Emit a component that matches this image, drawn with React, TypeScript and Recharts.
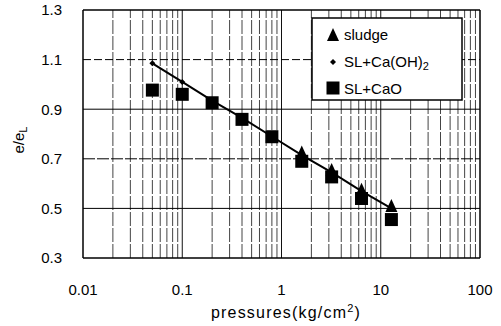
import React from "react";
import { ScatterChart, Scatter, XAxis, YAxis, ReferenceLine } from "recharts";

// pressures (kg/cm2) of the loading steps
const pressures = [0.05, 0.1, 0.2, 0.4, 0.8, 1.6, 3.2, 6.4, 12.8];
const sludgePressures = [1.6, 3.2, 6.4, 12.8];

// e/eL
const sludge = [0.725, 0.655, 0.575, 0.51];
const slCaOH2 = [1.085, 1.01, 0.935, 0.865, 0.79, 0.715, 0.645, 0.57, 0.5];
const slCaO = [0.977, 0.96, 0.926, 0.859, 0.789, 0.69, 0.627, 0.54, 0.455];

const xTicks = [0.01, 0.1, 1, 10, 100];
const yTicks = [0.3, 0.5, 0.7, 0.9, 1.1, 1.3];
const yMinorTicks = [
  0.3, 0.35, 0.4, 0.45, 0.5, 0.55, 0.6, 0.65, 0.7, 0.75, 0.8, 0.85, 0.9, 0.95,
  1.0, 1.05, 1.1, 1.15, 1.2, 1.25, 1.3,
];
const xGrid = [
  0.02, 0.03, 0.04, 0.05, 0.06, 0.07, 0.08, 0.09, 0.1,
  0.2, 0.3, 0.4, 0.5, 0.6, 0.7, 0.8, 0.9, 1,
  2, 3, 4, 5, 6, 7, 8, 9, 10,
  20, 30, 40, 50, 60, 70, 80, 90,
];
const xMajorGrid = [0.1, 1, 10];

const sludgeData = sludgePressures.map((x, i) => ({ x, y: sludge[i] }));
const caOH2Data = pressures.map((x, i) => ({ x, y: slCaOH2[i] }));
const caOData = pressures.map((x, i) => ({ x, y: slCaO[i] }));

const FONT = "'Liberation Sans', Arial, sans-serif";

const Triangle = (p: any) => (
  <polygon
    points={`${p.cx},${p.cy - 7} ${p.cx - 6},${p.cy + 6} ${p.cx + 6},${p.cy + 6}`}
    fill="#000"
  />
);
const Square = (p: any) => <rect x={p.cx - 6.5} y={p.cy - 6.5} width={13} height={13} fill="#000" />;
const Diamond = (p: any) => (
  <polygon
    points={`${p.cx},${p.cy - 3} ${p.cx + 3},${p.cy} ${p.cx},${p.cy + 3} ${p.cx - 3},${p.cy}`}
    fill="#000"
  />
);

export default function App() {
  return (
    <div style={{ position: "absolute", left: 0, top: 0, width: 501, height: 326, background: "#fff" }}>
      <ScatterChart width={501} height={326} margin={{ top: 10, right: 21, left: 0, bottom: 0 }}>
        <XAxis
          dataKey="x"
          type="number"
          scale="log"
          domain={[0.01, 100]}
          allowDataOverflow
          ticks={xTicks}
          tickFormatter={(v: number) => String(v)}
          height={68}
          tickLine={false}
          tickSize={24}
          tickMargin={2}
          axisLine={{ stroke: "#000", strokeWidth: 1.5 }}
          tick={{ fill: "#000", fontSize: 15, fontFamily: FONT }}
        />
        <YAxis
          dataKey="y"
          type="number"
          domain={[0.3, 1.3]}
          allowDataOverflow
          ticks={yTicks}
          tickFormatter={(v: number) => v.toFixed(1)}
          width={83}
          tickLine={false}
          tickSize={19}
          tickMargin={2}
          axisLine={{ stroke: "#000", strokeWidth: 1.5 }}
          tick={{ fill: "#000", fontSize: 15, fontFamily: FONT }}
        />
        <YAxis
          yAxisId="leftMinor"
          type="number"
          domain={[0.3, 1.3]}
          allowDataOverflow
          ticks={yMinorTicks}
          mirror
          tick={false}
          tickSize={4}
          tickLine={{ stroke: "#000" }}
          axisLine={false}
        />
        <YAxis
          yAxisId="rightMinor"
          orientation="right"
          type="number"
          domain={[0.3, 1.3]}
          allowDataOverflow
          ticks={yMinorTicks}
          mirror
          tick={false}
          tickSize={4}
          tickLine={{ stroke: "#000" }}
          axisLine={{ stroke: "#000", strokeWidth: 1.5 }}
        />
        <XAxis
          xAxisId="top"
          orientation="top"
          type="number"
          scale="log"
          domain={[0.01, 100]}
          allowDataOverflow
          ticks={xTicks}
          mirror
          tick={false}
          tickLine={false}
          axisLine={{ stroke: "#000", strokeWidth: 1.5 }}
        />

        {xGrid.map((v) => (
          <ReferenceLine
            key={`vx${v}`}
            x={v}
            stroke={xMajorGrid.includes(v) ? "#111" : "#444"}
            strokeWidth={1}
            strokeDasharray={xMajorGrid.includes(v) ? undefined : "14 2"}
          />
        ))}
        <ReferenceLine y={0.5} stroke="#000" strokeWidth={1} />
        <ReferenceLine y={0.7} stroke="#000" strokeWidth={1} strokeDasharray="12 2" />
        <ReferenceLine y={0.9} stroke="#000" strokeWidth={1} />
        <ReferenceLine y={1.1} stroke="#000" strokeWidth={1} strokeDasharray="8 3" />

        <Scatter
          name="SL+Ca(OH)2"
          data={caOH2Data}
          shape={Diamond}
          line={{ stroke: "#000", strokeWidth: 2 }}
          isAnimationActive={false}
        />
        <Scatter name="SL+CaO" data={caOData} shape={Square} isAnimationActive={false} />
        <Scatter name="sludge" data={sludgeData} shape={Triangle} isAnimationActive={false} />
      </ScatterChart>

      <svg
        width={501}
        height={326}
        style={{ position: "absolute", left: 0, top: 0, pointerEvents: "none" }}
        fontFamily={FONT}
      >
        {/* legend */}
        <rect x={312} y={18} width={150} height={82} fill="#fff" stroke="#000" strokeWidth={1.5} />
        <Triangle cx={333} cy={35} />
        <text x={344} y={40} fontSize={15} fill="#000">sludge</text>
        <Diamond cx={333} cy={62} />
        <text x={344} y={67} fontSize={15} fill="#000">
          SL+Ca(OH)<tspan fontSize={11} dy={3}>2</tspan>
        </text>
        <Square cx={333} cy={88} />
        <text x={344} y={94} fontSize={15} fill="#000">SL+CaO</text>

        {/* axis titles */}
        <text x={24} y={140} fontSize={15} fill="#000" textAnchor="middle" transform="rotate(-90 24 140)">
          e/e<tspan fontSize={11} dy={3}>L</tspan>
        </text>
        <text x={286} y={318} fontSize={16} fill="#000" textAnchor="middle" letterSpacing={1.2}>
          pressures(kg/cm<tspan fontSize={11} dy={-6}>2</tspan>
          <tspan dy={6}>)</tspan>
        </text>
      </svg>
    </div>
  );
}
